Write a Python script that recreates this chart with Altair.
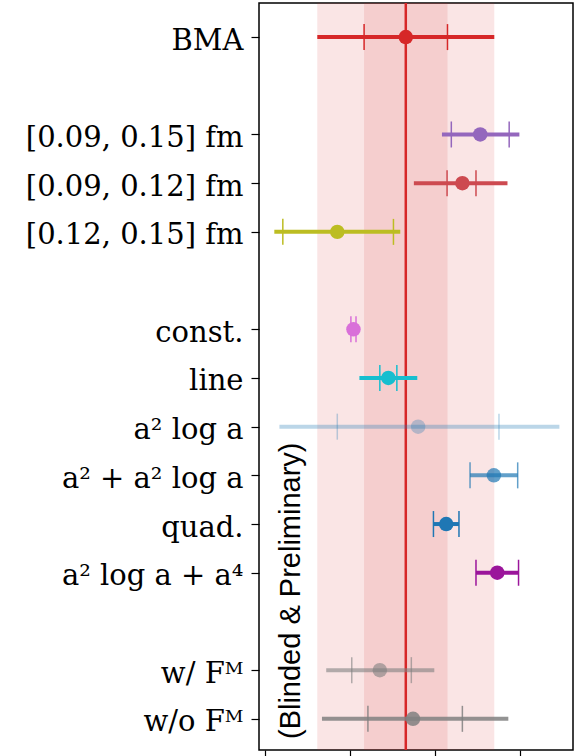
import json
import altair as alt
import pandas as pd

# Row positions (gaps separate the groups), labels and estimates
rows = [0, 2, 3, 4, 6, 7, 8, 9, 10, 11, 13, 14]
labels = ["BMA", "[0.09, 0.15] fm", "[0.09, 0.12] fm", "[0.12, 0.15] fm",
          "const.", "line", "a\u00b2 log a", "a\u00b2 + a\u00b2 log a", "quad.",
          "a\u00b2 log a + a\u2074", "w/ F\u1d39", "w/o F\u1d39"]
center = [1.655, 2.53, 2.32, 0.85, 1.04, 1.45, 1.80, 2.69, 2.13, 2.73, 1.35, 1.74]
lo_outer = [0.615, 2.08, 1.75, 0.11, 1.01, 1.11, 0.17, 2.41, 1.98, 2.48, 0.72, 0.67]
lo_inner = [1.165, 2.19, 2.14, 0.21, 1.01, 1.35, 0.85, 2.41, 1.98, 2.48, 1.02, 1.21]
hi_inner = [2.145, 2.87, 2.48, 1.51, 1.07, 1.55, 2.75, 2.97, 2.28, 2.98, 1.72, 2.32]
hi_outer = [2.695, 2.99, 2.85, 1.59, 1.07, 1.79, 3.46, 2.97, 2.28, 2.98, 1.99, 2.86]
colors = ["#d62728", "#9467bd", "#cd4a50", "#bcbd22", "#d970d9", "#17becf",
          "#1f77b4", "#1f77b4", "#1f77b4", "#9b159b", "#808080", "#808080"]
alphas = [1.0, 1.0, 1.0, 1.0, 1.0, 1.0, 0.3, 0.7, 1.0, 1.0, 0.6, 0.85]

x_ticks = [0, 1, 2, 3]
x_domain = [-0.07, 3.62]
y_domain = [-0.7, 14.64]

note = "(Blinded & Preliminary)"
note_x, note_y = 0.41, 11.37

df = pd.DataFrame({
    "row": rows, "label": labels, "center": center,
    "lo_outer": lo_outer, "lo_inner": lo_inner,
    "hi_inner": hi_inner, "hi_outer": hi_outer,
    "color": colors, "alpha": alphas,
})
bma = df.iloc[[0]]

label_lookup = [""] * (max(rows) + 1)
for r, t in zip(rows, labels):
    label_lookup[r] = t
label_expr = json.dumps(label_lookup) + "[datum.value]"

xs = alt.Scale(domain=x_domain, nice=False, zero=False)
ys = alt.Scale(domain=y_domain, nice=False, zero=False, reverse=True)

x_axis = alt.Axis(values=x_ticks, labels=False, title=None, grid=False,
                  domain=False, tickSize=6, tickWidth=1.2, tickColor="black")
y_axis = alt.Axis(values=rows, labelExpr=label_expr, title=None, grid=False,
                  domain=False, tickSize=8, tickWidth=1.2, tickColor="black",
                  labelFont="DejaVu Serif", labelFontSize=29, labelColor="black",
                  labelPadding=8, labelLimit=400, labelOffset=3)

# BMA bands spanning the whole height
band_outer = alt.Chart(bma).mark_rect(color="#d62728", opacity=0.12).encode(
    x=alt.X("lo_outer:Q", scale=xs, axis=x_axis), x2="hi_outer:Q")
band_inner = alt.Chart(bma).mark_rect(color="#d62728", opacity=0.12).encode(
    x=alt.X("lo_inner:Q", scale=xs), x2="hi_inner:Q")
vline = alt.Chart(bma).mark_rule(color="#d62728", strokeWidth=2.5).encode(
    x=alt.X("center:Q", scale=xs))

base = alt.Chart(df)
bars = base.mark_rule(strokeWidth=4).encode(
    x=alt.X("lo_outer:Q", scale=xs, axis=x_axis), x2="hi_outer:Q",
    y=alt.Y("row:Q", scale=ys, axis=y_axis),
    color=alt.Color("color:N", scale=None),
    opacity=alt.Opacity("alpha:Q", scale=None))
caps = base.transform_fold(["lo_inner", "hi_inner"], as_=["side", "cap"]).mark_tick(
    thickness=1.5, size=26, orient="vertical").encode(
    x=alt.X("cap:Q", scale=xs),
    y=alt.Y("row:Q", scale=ys),
    color=alt.Color("color:N", scale=None),
    opacity=alt.Opacity("alpha:Q", scale=None))
points = base.mark_circle(size=210).encode(
    x=alt.X("center:Q", scale=xs),
    y=alt.Y("row:Q", scale=ys),
    color=alt.Color("color:N", scale=None),
    opacity=alt.Opacity("alpha:Q", scale=None))

text = alt.Chart(pd.DataFrame({"x": [note_x], "y": [note_y], "t": [note]})).mark_text(
    angle=270, align="center", baseline="alphabetic", font="Liberation Sans",
    fontSize=29, color="black").encode(
    x=alt.X("x:Q", scale=xs), y=alt.Y("y:Q", scale=ys), text="t:N")

chart = alt.layer(band_outer, band_inner, vline, bars, caps, points, text).properties(
    width=314, height=747, autosize="none",
    padding={"left": 259, "top": 3, "right": 4, "bottom": 6},
).configure(background="white").configure_view(stroke="black", strokeWidth=1.5)

chart.save("out.html", embed_options={"renderer": "svg", "actions": False})
